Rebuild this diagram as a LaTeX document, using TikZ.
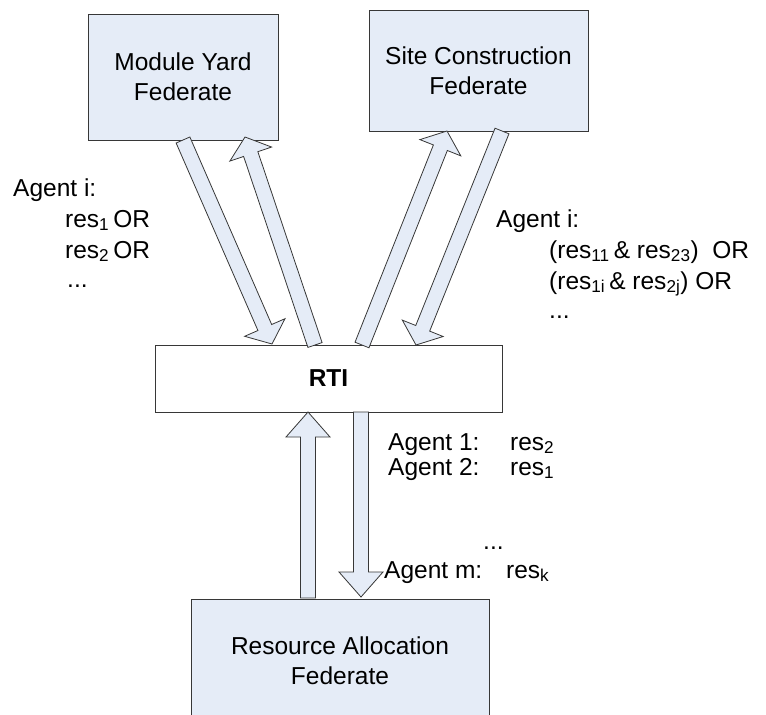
\documentclass[tikz,border=0pt]{standalone}
\usepackage{fontspec}
\setmainfont{Liberation Sans}
\usetikzlibrary{calc}
\definecolor{boxfill}{RGB}{229,236,247}
\definecolor{edgecol}{RGB}{55,55,55}
\newcommand\arrSW{7.5pt}
\newcommand\arrHW{22pt}
% #1 tail, #2 tip, #3 head length, #4 name prefix
\newcommand\blockarr[4]{%
  \coordinate (#4b) at ($(#2)!#3!(#1)$);
  \draw[blockarrow] ($(#1)!\arrSW!-90:(#2)$) -- ($(#4b)!\arrSW!-90:(#2)$)
    -- ($(#4b)!\arrHW!-90:(#2)$) -- (#2) -- ($(#4b)!\arrHW!90:(#2)$)
    -- ($(#4b)!\arrSW!90:(#2)$) -- ($(#1)!\arrSW!90:(#2)$) -- cycle;
}
\tikzset{
  fedbox/.style={draw=edgecol, line width=0.9pt, fill=boxfill, align=center,
    font=\fontsize{24.5}{30}\selectfont, inner sep=0pt},
  rtibox/.style={draw=edgecol, line width=0.9pt, fill=white,
    font=\fontsize{24.5}{30}\selectfont\bfseries, inner sep=0pt},
  blockarrow/.style={draw=edgecol, line width=0.8pt, fill=boxfill, line join=miter},
  lbl/.style={font=\fontsize{24.5}{30}\selectfont, inner sep=0pt, anchor=base west}
}
\begin{document}
\begin{tikzpicture}[x=1pt,y=-1pt]
\useasboundingbox (0,0) rectangle (766,715);
\begin{scope}
\clip (0,0) rectangle (766,715);
% boxes
\node[fedbox, minimum width=190pt, minimum height=126pt] (my) at (183,77) {Module Yard\\Federate};
\node[fedbox, minimum width=219pt, minimum height=121pt] (sc) at (478.5,70.5) {Site Construction\\Federate};
\node[rtibox, minimum width=347pt, minimum height=67pt] (rti) at (328.5,378.5) {RTI};
\node[fedbox, minimum width=298pt, minimum height=124pt] (ra) at (340,661) {Resource Allocation\\Federate};
% arrow end points
\coordinate (aT) at (183,140);  \coordinate (aH) at (272,344);
\coordinate (bT) at (315,345);  \coordinate (bH) at (245,137);
\coordinate (cT) at (362,345);  \coordinate (cH) at (447,131);
\coordinate (dT) at (502,131);  \coordinate (dH) at (416,345);
\coordinate (eT) at (308,598);  \coordinate (eH) at (308,412);
\coordinate (fT) at (361,412);  \coordinate (fH) at (361,597);
\blockarr{aT}{aH}{18pt}{a}
\blockarr{bT}{bH}{18pt}{b}
\blockarr{cT}{cH}{18pt}{c}
\blockarr{dT}{dH}{18pt}{d}
\blockarr{eT}{eH}{25pt}{e}
\blockarr{fT}{fH}{25pt}{f}
\end{scope}
% left label
\node[lbl] (l1) at (13,196) {Agent i:};
\node[lbl] (l2) at (65,227) {res\textsubscript{1}\,OR};
\node[lbl] (l3) at (65,258) {res\textsubscript{2}\,OR};
\node[lbl] (l4) at (67,287) {...};
% right label
\node[lbl] (r1) at (496,227) {Agent i:};
\node[lbl] (r2) at (549,258) {(res\textsubscript{11}\,\& res\textsubscript{23})\ \ OR};
\node[lbl] (r3) at (549,289) {(res\textsubscript{1i}\,\& res\textsubscript{2j}) OR};
\node[lbl] (r4) at (549,318) {...};
% bottom label
\node[lbl] (b1) at (388,450) {\makebox[122pt][l]{Agent 1:}res\textsubscript{2}};
\node[lbl] (b2) at (388,475) {\makebox[122pt][l]{Agent 2:}res\textsubscript{1}};
\node[lbl] (b3) at (483,549) {...};
\node[lbl] (b4) at (384,578) {\makebox[122pt][l]{Agent m:}res\textsubscript{k}};
\end{tikzpicture}
\end{document}
